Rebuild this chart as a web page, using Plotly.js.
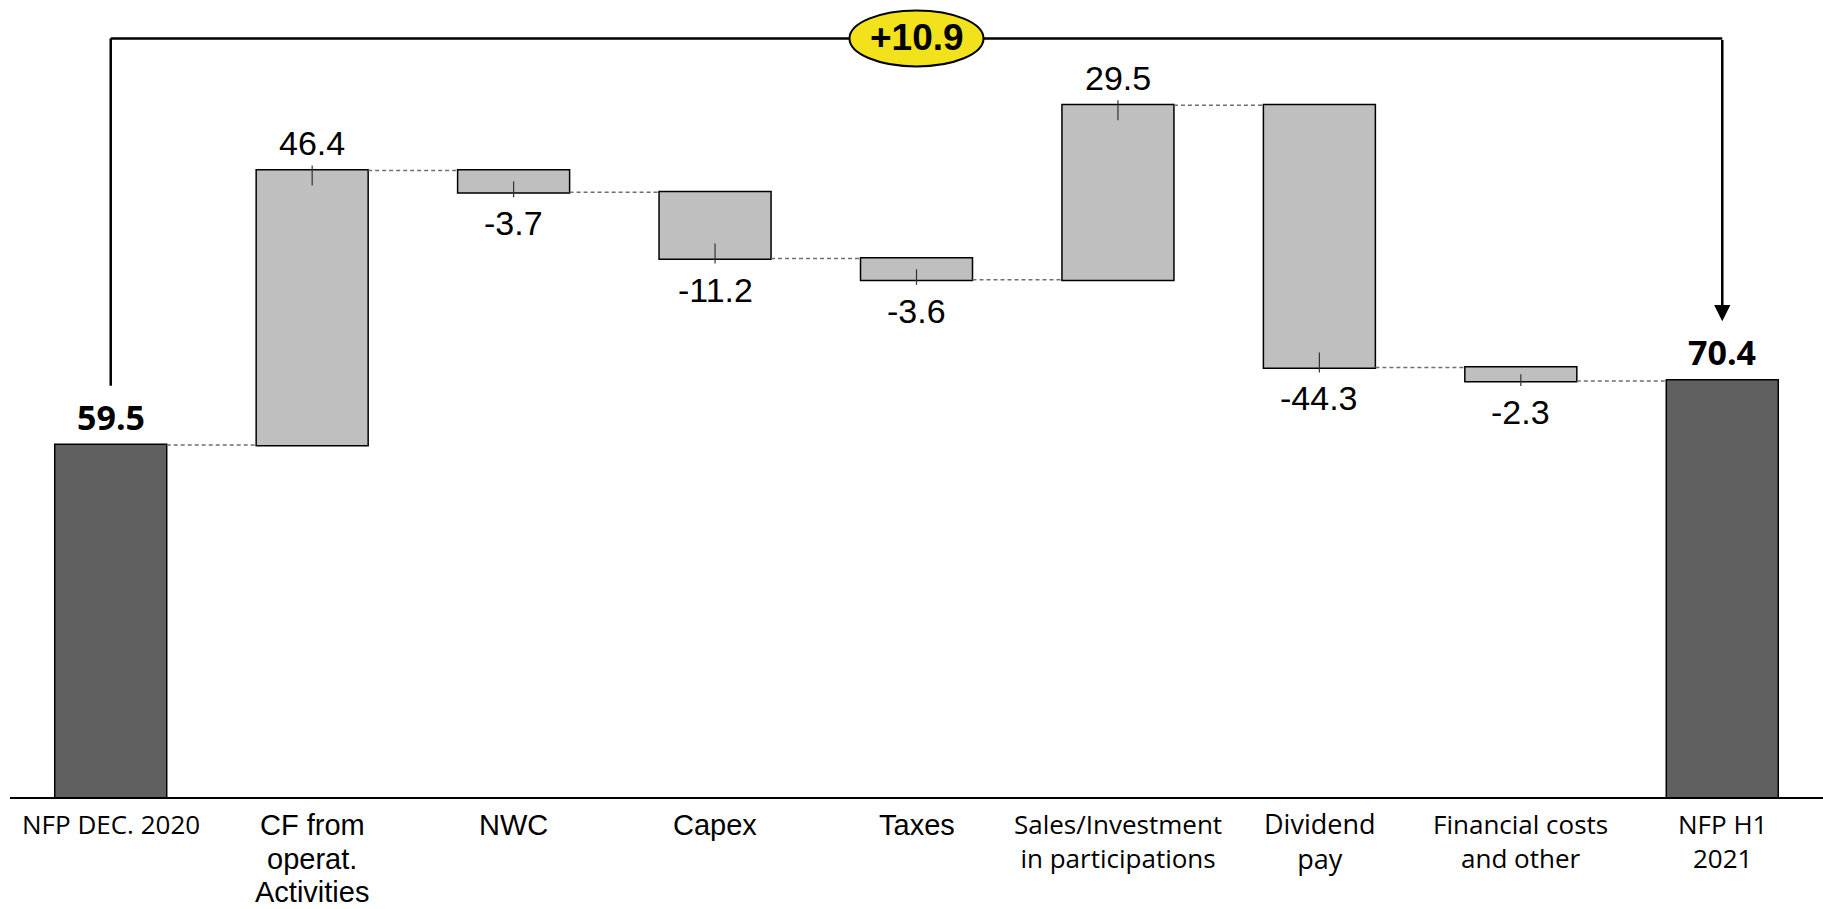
<!DOCTYPE html>
<html>
<head>
<meta charset="utf-8">
<script src="https://cdn.plot.ly/plotly-3.0.1.min.js"></script>
<style>
html, body { margin: 0; padding: 0; background: #ffffff; }
#chart { width: 1823px; height: 909px; }
</style>
</head>
<body>
<div id="chart"></div>
<script>
// ---------------- DATA ----------------
const categories = [
  "NFP DEC. 2020",
  "CF from<br>operat.<br>Activities",
  "NWC",
  "Capex",
  "Taxes",
  "Sales/Investment<br>in participations",
  "Dividend<br>pay",
  "Financial costs<br>and other",
  "NFP H1<br>2021"
];
const measures = ["absolute", "relative", "relative", "relative", "relative", "relative", "relative", "relative", "absolute"];
const values = [59.5, 46.4, -3.7, -11.2, -3.6, 29.5, -44.3, -2.3, 70.4];
const valueLabels = ["59.5", "46.4", "-3.7", "-11.2", "-3.6", "29.5", "-44.3", "-2.3", "70.4"];

// ---------------- STYLE / LAYOUT CONSTANTS ----------------
const ARIAL = "Liberation Sans, Arial, sans-serif";
const CALIBRI = "Open Sans, Lato, sans-serif";
const labelStyle = ["cal", "ar", "ar", "ar", "ar", "cal", "calBig", "cal", "cal"];
const fontFor = {
  ar:     { family: ARIAL,   size: 29, color: "#000", shift: -10, perLine: true },
  cal:    { family: CALIBRI, size: 26, color: "#000", shift: -7,  perLine: false },
  calBig: { family: CALIBRI, size: 27, color: "#000", shift: -6,  perLine: false }
};
const LINE_GAP = 33.5;

const W = 1823, H = 909;
const M = { l: 10, r: 0, t: 0, b: 112 };
const Y_MAX = 134.7;
const plotH = H - M.t - M.b;
const pxPerUnit = plotH / Y_MAX;
const BRACKET_Y = 128.2;
const BRACKET_GAP = 10;

const idx = categories.map((_, i) => i);

// running totals
const ends = [];
let run = 0;
values.forEach((v, i) => {
  if (measures[i] === "absolute") { run = v; } else { run = run + v; }
  ends.push(run);
});

const trace = {
  type: "waterfall",
  x: idx,
  y: values,
  measure: measures,
  width: 0.556,
  textinfo: "none",
  hoverinfo: "skip",
  increasing: { marker: { color: "#BFBFBF", line: { color: "#000000", width: 1.5 } } },
  decreasing: { marker: { color: "#BFBFBF", line: { color: "#000000", width: 1.5 } } },
  totals:     { marker: { color: "#606060", line: { color: "#000000", width: 1.5 } } },
  connector: { mode: "between", line: { color: "#6F6F6F", width: 1.5, dash: "4px,3px" } }
};

const shapes = [];
const annotations = [];

// leader ticks and value labels
values.forEach((v, i) => {
  const edge = ends[i];
  if (measures[i] === "relative") {
    const inside = Math.min(15, Math.abs(v) * pxPerUnit / 2);
    const up = v >= 0;
    shapes.push({
      type: "line", xref: "x", yref: "y", ysizemode: "pixel", yanchor: edge,
      x0: i, x1: i,
      y0: up ? 5 : -5, y1: up ? -inside : inside,
      line: { color: "#333333", width: 1.2 }, layer: "above"
    });
    annotations.push({
      x: i, y: edge, xref: "x", yref: "y", showarrow: false,
      text: valueLabels[i],
      yanchor: up ? "bottom" : "top", yshift: up ? 6 : -10,
      font: { family: ARIAL, size: 34, color: "#000" }
    });
  } else {
    annotations.push({
      x: i, y: edge, xref: "x", yref: "y", showarrow: false,
      text: "<b>" + valueLabels[i] + "</b>",
      yanchor: "bottom", yshift: 3,
      font: { family: CALIBRI, size: 34, color: "#000", weight: 700 }
    });
  }
});

// bracket
const first = 0, last = values.length - 1;
shapes.push({
  type: "line", xref: "x", yref: "y", x0: first, x1: first,
  y0: values[first] + BRACKET_GAP, y1: BRACKET_Y,
  line: { color: "#000", width: 2.5 }, layer: "above"
});
shapes.push({
  type: "line", xref: "x", yref: "y", x0: first, x1: last,
  y0: BRACKET_Y, y1: BRACKET_Y,
  line: { color: "#000", width: 2.5 }, layer: "above"
});
const mid = (first + last) / 2;
shapes.push({
  type: "circle", xref: "x", yref: "y", xsizemode: "pixel", ysizemode: "pixel",
  xanchor: mid, yanchor: BRACKET_Y, x0: -67, x1: 67, y0: -28, y1: 28,
  fillcolor: "#F2E21C", line: { color: "#000", width: 2 }, layer: "above"
});
annotations.push({
  x: last, y: values[last] + BRACKET_GAP, xref: "x", yref: "y",
  ax: last, ay: BRACKET_Y, axref: "x", ayref: "y",
  showarrow: true, arrowhead: 2, arrowsize: 1.3, arrowwidth: 2.5, arrowcolor: "#000",
  standoff: 0, text: ""
});
const delta = values[last] - values[first];
annotations.push({
  x: mid, y: BRACKET_Y, xref: "x", yref: "y", showarrow: false,
  text: "<b>" + (delta >= 0 ? "+" : "") + delta.toFixed(1) + "</b>",
  font: { family: ARIAL, size: 37, color: "#000", weight: 700 },
  yshift: 1
});

// category labels
categories.forEach((c, i) => {
  const f = fontFor[labelStyle[i]];
  if (f.perLine) {
    c.split("<br>").forEach((line, j) => {
      annotations.push({
        x: i, y: 0, xref: "x", yref: "paper", showarrow: false,
        text: line, yanchor: "top", yshift: f.shift - j * LINE_GAP,
        font: { family: f.family, size: f.size, color: f.color }
      });
    });
  } else {
    annotations.push({
      x: i, y: 0, xref: "x", yref: "paper", showarrow: false,
      text: c, yanchor: "top", yshift: f.shift, align: "center",
      font: { family: f.family, size: f.size, color: f.color }
    });
  }
});

const layout = {
  width: W, height: H,
  margin: M,
  paper_bgcolor: "#ffffff", plot_bgcolor: "#ffffff",
  showlegend: false,
  xaxis: {
    type: "linear", range: [-0.5, 8.5], showgrid: false, zeroline: false,
    showline: true, linecolor: "#000", linewidth: 2, ticks: "", showticklabels: false,
    fixedrange: true
  },
  yaxis: {
    range: [0, Y_MAX], showgrid: false, zeroline: false, showline: false,
    ticks: "", showticklabels: false, fixedrange: true
  },
  shapes: shapes,
  annotations: annotations
};

Plotly.newPlot("chart", [trace], layout, { displayModeBar: false, staticPlot: true });
</script>
</body>
</html>
